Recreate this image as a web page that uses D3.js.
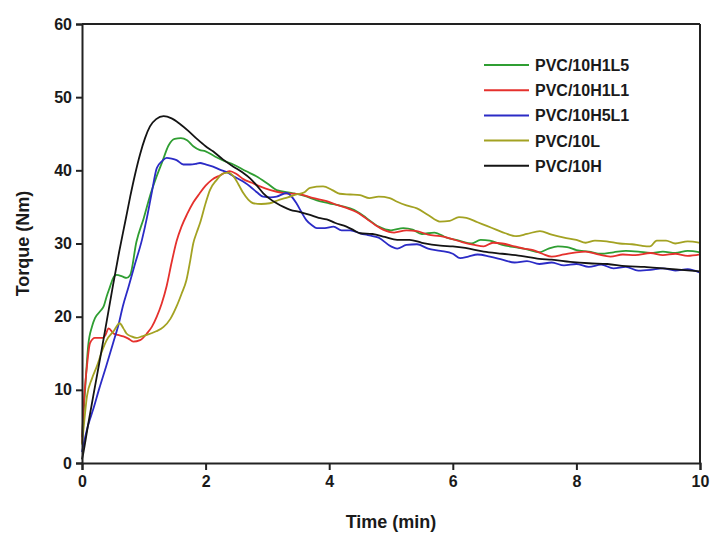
<!DOCTYPE html>
<html>
<head>
<meta charset="utf-8">
<script src="https://cdn.jsdelivr.net/npm/d3@7"></script>
<style>
  html, body { margin: 0; padding: 0; background: #fff; }
  svg { display: block; font-family: "Liberation Sans", Arial, sans-serif; }
</style>
</head>
<body>
<svg id="chart" width="713" height="545"></svg>
<script>
// Torque vs time, [minutes, N·m]
const seriesNames = ["PVC/10H1L5", "PVC/10H1L1", "PVC/10H5L1", "PVC/10L", "PVC/10H"];
const seriesColors = ["#2f9e32", "#e5312d", "#2b2bc6", "#a3a222", "#141414"];

const pvc10H1L5 = [[0,3.5],[0.05,10],[0.1,16],[0.16,18.6],[0.21,19.8],[0.3,20.8],[0.35,21.4],[0.4,22.8],[0.45,24],[0.5,25.2],[0.56,25.7],[0.65,25.5],[0.72,25.3],[0.78,25.7],[0.88,30.2],[1.0,33.5],[1.1,36.5],[1.2,39],[1.3,41.2],[1.4,43.4],[1.5,44.3],[1.6,44.4],[1.7,44.1],[1.8,43.3],[1.9,42.8],[2.0,42.6],[2.15,41.9],[2.3,41.3],[2.45,40.8],[2.65,39.9],[2.82,39.2],[3.0,38.2],[3.15,37.3],[3.4,36.9],[3.6,36.5],[3.8,35.9],[4.0,35.5],[4.2,35.1],[4.4,34.6],[4.6,33.5],[4.8,32.3],[5.0,31.8],[5.2,32.1],[5.35,31.9],[5.5,31.3],[5.7,31.5],[5.9,30.8],[6.1,30.4],[6.3,30.0],[6.45,30.5],[6.6,30.4],[6.8,29.8],[7.0,29.5],[7.2,29.2],[7.4,28.8],[7.55,29.3],[7.7,29.6],[7.85,29.5],[8.0,29.1],[8.2,28.9],[8.4,28.6],[8.6,28.8],[8.8,29.0],[9.0,28.9],[9.2,28.7],[9.4,28.9],[9.6,28.7],[9.8,29.0],[10,28.8]];

const pvc10H1L1 = [[0,2.7],[0.02,6.8],[0.08,13.2],[0.13,16.4],[0.21,17.1],[0.34,17.1],[0.38,17.5],[0.43,18.4],[0.51,17.7],[0.58,17.5],[0.67,17.3],[0.75,17],[0.83,16.6],[0.94,16.8],[1.05,17.7],[1.13,18.6],[1.21,20],[1.29,21.8],[1.37,24.2],[1.45,27.4],[1.53,30.3],[1.61,32.3],[1.7,34],[1.8,35.6],[1.9,36.8],[2.0,37.9],[2.1,38.7],[2.23,39.3],[2.39,39.9],[2.5,39.5],[2.61,38.8],[2.75,38.3],[2.88,37.8],[3.05,37.3],[3.26,36.9],[3.53,36.7],[3.75,36.2],[3.96,35.8],[4.15,35.2],[4.3,34.8],[4.44,34.3],[4.6,33.4],[4.75,32.5],[4.87,31.9],[5.05,31.5],[5.25,31.8],[5.42,31.7],[5.6,31.2],[5.8,31],[5.95,30.7],[6.15,30.2],[6.35,29.8],[6.5,29.6],[6.65,30.1],[6.8,30.0],[7.0,29.6],[7.15,29.3],[7.3,29.1],[7.45,28.6],[7.6,28.2],[7.8,28.5],[8.0,28.8],[8.15,28.9],[8.35,28.5],[8.55,28.2],[8.75,28.5],[8.95,28.4],[9.2,28.7],[9.4,28.4],[9.6,28.6],[9.8,28.3],[10,28.5]];

const pvc10H5L1 = [[0,1.5],[0.05,3.5],[0.1,5.2],[0.18,7.3],[0.28,10.2],[0.39,13.2],[0.5,16.3],[0.6,19.2],[0.66,21.4],[0.75,24],[0.85,27],[0.97,30.5],[1.05,33.5],[1.13,37],[1.21,40.3],[1.3,41.3],[1.37,41.7],[1.45,41.6],[1.53,41.4],[1.64,40.8],[1.75,40.8],[1.85,40.9],[1.91,41],[2.0,40.8],[2.12,40.5],[2.23,40.1],[2.35,39.7],[2.45,39.2],[2.6,38.5],[2.72,37.8],[2.83,37.0],[2.93,36.4],[3.05,36.3],[3.15,36.4],[3.31,36.9],[3.47,35.5],[3.55,34.3],[3.63,33.2],[3.72,32.5],[3.8,32.1],[3.93,32.1],[4.07,32.3],[4.2,31.8],[4.34,31.8],[4.5,31.4],[4.65,31.1],[4.8,30.8],[5.0,29.6],[5.1,29.3],[5.25,29.8],[5.42,29.9],[5.6,29.3],[5.8,29.0],[6.0,28.6],[6.12,28.0],[6.25,28.2],[6.4,28.5],[6.6,28.2],[6.8,27.8],[7.0,27.4],[7.2,27.6],[7.4,27.2],[7.6,27.4],[7.8,27.0],[8.0,27.2],[8.2,26.8],[8.4,27.1],[8.6,26.6],[8.8,26.8],[9.0,26.3],[9.2,26.4],[9.4,26.6],[9.6,26.3],[9.8,26.5],[10,26.0]];

const pvc10L = [[0,2.5],[0.04,6],[0.08,9.1],[0.16,11.5],[0.24,13.2],[0.32,15.2],[0.4,16.8],[0.51,18.0],[0.61,19.1],[0.67,18.4],[0.72,17.7],[0.8,17.3],[0.88,17.1],[0.97,17.3],[1.05,17.5],[1.2,18],[1.32,18.6],[1.43,19.7],[1.53,21.4],[1.61,23.1],[1.69,25],[1.75,27.6],[1.8,30.0],[1.86,31.6],[1.91,32.8],[2.0,35.5],[2.07,37.3],[2.18,38.7],[2.29,39.6],[2.37,39.7],[2.45,39.2],[2.53,38.1],[2.61,36.9],[2.69,36.0],[2.77,35.5],[2.9,35.4],[3.04,35.5],[3.2,36.0],[3.33,36.3],[3.47,36.7],[3.6,37.0],[3.69,37.6],[3.9,37.8],[4.05,37.3],[4.17,36.8],[4.34,36.7],[4.5,36.6],[4.65,36.2],[4.8,36.4],[4.98,36.2],[5.1,35.7],[5.25,35.2],[5.42,34.8],[5.6,33.9],[5.79,33.0],[5.95,33.1],[6.1,33.6],[6.22,33.5],[6.4,32.9],[6.55,32.4],[6.7,31.9],[6.85,31.4],[7.03,31.0],[7.2,31.3],[7.41,31.7],[7.6,31.2],[7.8,30.8],[8.0,30.5],[8.15,30.1],[8.3,30.4],[8.49,30.3],[8.7,30.0],[8.9,29.9],[9.05,29.7],[9.19,29.6],[9.3,30.4],[9.45,30.4],[9.6,30.0],[9.8,30.3],[10,30.1]];

const pvc10H = [[0,0.5],[0.02,1.3],[0.1,5.3],[0.2,10],[0.3,14.6],[0.4,19.4],[0.5,24.2],[0.6,28.8],[0.7,33],[0.78,36.4],[0.86,39.5],[0.94,42.2],[1.02,44.4],[1.1,46.0],[1.2,47.0],[1.32,47.4],[1.45,47.1],[1.59,46.3],[1.72,45.4],[1.86,44.3],[2.0,43.3],[2.12,42.6],[2.28,41.5],[2.45,40.5],[2.6,39.7],[2.72,38.9],[2.83,37.9],[2.93,36.9],[3.04,36.1],[3.15,35.5],[3.26,35.0],[3.37,34.6],[3.53,34.3],[3.69,33.9],[3.83,33.5],[3.96,33.3],[4.1,32.8],[4.28,32.3],[4.4,31.8],[4.5,31.4],[4.7,31.3],[4.9,30.9],[5.1,30.5],[5.3,30.5],[5.5,30.1],[5.8,29.7],[6.0,29.6],[6.2,29.4],[6.5,28.9],[6.8,28.6],[7.1,28.3],[7.4,27.9],[7.6,27.8],[7.9,27.5],[8.2,27.3],[8.5,27.2],[8.8,26.9],[9.1,26.8],[9.4,26.6],[9.7,26.4],[10,26.2]];

const seriesData = [pvc10H1L5, pvc10H1L1, pvc10H5L1, pvc10L, pvc10H];
const xTicks = [0, 2, 4, 6, 8, 10];
const yTicks = [0, 10, 20, 30, 40, 50, 60];

const svg = d3.select("#chart");
const m = { left: 82, right: 700, top: 24, bottom: 463 };

const x = d3.scaleLinear().domain([0, 10]).range([m.left, m.right]);
const y = d3.scaleLinear().domain([0, 60]).range([m.bottom, m.top]);

// Curves
const line = d3.line().x(d => x(d[0])).y(d => y(d[1])).curve(d3.curveMonotoneX);
const plot = svg.append("g");
seriesData.forEach((data, i) => {
  plot.append("path")
    .datum(data)
    .attr("fill", "none")
    .attr("stroke", seriesColors[i])
    .attr("stroke-width", 1.8)
    .attr("stroke-linejoin", "round")
    .attr("d", line);
});

// Frame (top and right edges)
svg.append("line").attr("x1", m.left).attr("x2", m.right).attr("y1", m.top).attr("y2", m.top)
  .attr("stroke", "#222").attr("stroke-width", 2);
svg.append("line").attr("x1", m.right).attr("x2", m.right).attr("y1", m.top).attr("y2", m.bottom)
  .attr("stroke", "#222").attr("stroke-width", 2);

// Axes
const xAxis = svg.append("g").attr("transform", `translate(0,${m.bottom})`)
  .call(d3.axisBottom(x).tickValues(xTicks).tickSize(7).tickPadding(6).tickFormat(d3.format("d")));
const yAxis = svg.append("g").attr("transform", `translate(${m.left},0)`)
  .call(d3.axisLeft(y).tickValues(yTicks).tickSize(6).tickPadding(4).tickFormat(d3.format("d")));

[xAxis, yAxis].forEach(g => {
  g.select(".domain").attr("stroke", "#222").attr("stroke-width", 2);
  g.selectAll(".tick line").attr("stroke", "#222").attr("stroke-width", 2);
  g.selectAll(".tick text")
    .attr("fill", "#1a1a1a")
    .style("font-family", "'Liberation Sans', Arial, sans-serif")
    .style("font-size", "16px")
    .style("font-weight", "bold");
});

// Axis titles
svg.append("text")
  .attr("x", (m.left + m.right) / 2)
  .attr("y", 528)
  .attr("text-anchor", "middle")
  .attr("fill", "#1a1a1a")
  .style("font-size", "18px").style("font-weight", "bold")
  .text("Time (min)");

svg.append("text")
  .attr("transform", `translate(29,${(m.top + m.bottom) / 2}) rotate(-90)`)
  .attr("text-anchor", "middle")
  .attr("fill", "#1a1a1a")
  .style("font-size", "18px").style("font-weight", "bold")
  .text("Torque (Nm)");

// Legend
const legend = svg.append("g").attr("transform", "translate(484,65)");
seriesNames.forEach((name, i) => {
  const row = legend.append("g").attr("transform", `translate(0,${i * 25.2})`);
  row.append("line").attr("x1", 0).attr("x2", 45).attr("y1", 0).attr("y2", 0)
    .attr("stroke", seriesColors[i]).attr("stroke-width", 2);
  row.append("text").attr("x", 51).attr("y", 6)
    .attr("fill", "#1a1a1a")
    .style("font-size", "16px").style("font-weight", "bold")
    .text(name);
});
</script>
</body>
</html>
